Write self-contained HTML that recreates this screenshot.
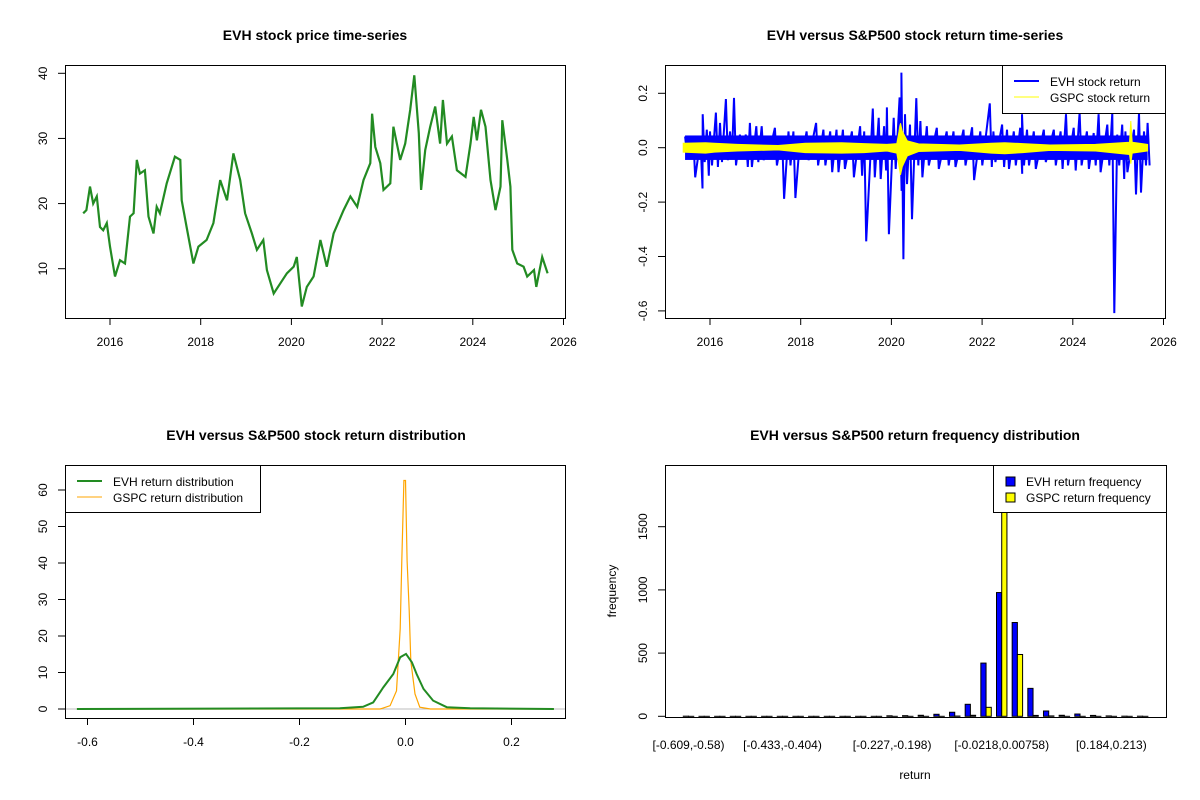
<!DOCTYPE html>
<html><head><meta charset="utf-8">
<style>
html,body{margin:0;padding:0;background:#fff;}
svg{display:block;font-family:"Liberation Sans",Arial,sans-serif;}
</style></head>
<body>
<svg id="c" width="1200" height="800" viewBox="0 0 1200 800" xmlns="http://www.w3.org/2000/svg"></svg>
<script>
// ---------- Panel 1: price ----------
const priceDates=[2015.41,2015.48,2015.56,2015.63,2015.71,2015.78,2015.85,2015.93,2016.0,2016.11,2016.22,2016.33,2016.44,2016.52,2016.59,2016.66,2016.77,2016.85,2016.96,2017.03,2017.10,2017.25,2017.43,2017.55,2017.58,2017.69,2017.84,2017.95,2018.13,2018.28,2018.43,2018.58,2018.72,2018.87,2018.98,2019.13,2019.24,2019.38,2019.46,2019.61,2019.75,2019.90,2020.05,2020.12,2020.23,2020.34,2020.49,2020.64,2020.78,2020.93,2021.15,2021.30,2021.45,2021.59,2021.74,2021.78,2021.85,2021.96,2022.03,2022.18,2022.25,2022.40,2022.51,2022.62,2022.71,2022.81,2022.86,2022.95,2023.06,2023.17,2023.28,2023.34,2023.43,2023.54,2023.65,2023.84,2023.95,2024.02,2024.09,2024.18,2024.28,2024.39,2024.50,2024.61,2024.65,2024.76,2024.83,2024.87,2024.98,2025.12,2025.20,2025.35,2025.40,2025.53,2025.65];
const prices=[18.5,19.0,22.6,20.0,21.1,16.4,15.9,17.0,13.4,8.8,11.3,10.8,18.0,18.5,26.7,24.6,25.1,18.0,15.4,19.5,18.5,23.1,27.2,26.7,20.5,16.4,10.8,13.4,14.4,17.0,23.6,20.5,27.7,23.6,18.5,15.4,12.9,14.4,9.8,6.2,7.7,9.3,10.3,11.8,4.2,7.2,8.8,14.4,10.3,15.4,19.0,21.1,19.5,23.6,26.2,33.8,28.7,26.2,22.1,23.1,31.8,26.7,29.2,34.4,39.7,30.8,22.1,28.2,31.8,34.9,29.2,35.9,29.2,30.3,25.1,24.1,29.2,33.3,29.7,34.4,31.8,23.6,19.0,22.6,32.8,26.7,22.6,12.9,10.8,10.3,8.8,9.8,7.2,11.8,9.3];
const priceYTicks=[10,20,30,40];
const yearTicks=[2016,2018,2020,2022,2024,2026];
// ---------- Panel 2: returns ----------
const retDates=[2015.45,2015.63,2015.79,2015.84,2015.93,2016.00,2016.13,2016.22,2016.35,2016.44,2016.53,2016.66,2016.79,2016.88,2017.02,2017.14,2017.25,2017.43,2017.59,2017.73,2017.84,2017.99,2018.13,2018.34,2018.50,2018.65,2018.79,2018.93,2019.13,2019.31,2019.40,2019.59,2019.72,2019.84,2019.90,2020.05,2020.18,2020.22,2020.30,2020.41,2020.55,2020.64,2020.78,2021.00,2021.22,2021.37,2021.59,2021.78,2021.96,2022.17,2022.25,2022.44,2022.55,2022.70,2022.84,2022.88,2022.99,2023.14,2023.36,2023.58,2023.73,2023.85,2024.02,2024.15,2024.31,2024.46,2024.57,2024.76,2024.87,2024.98,2025.09,2025.16,2025.35,2025.46,2025.57,2025.65];
const evhHi=[0.041,0.041,0.029,0.123,0.066,0.060,0.129,0.091,0.179,0.060,0.183,0.048,0.048,0.091,0.079,0.079,0.041,0.073,0.041,0.060,0.060,0.041,0.060,0.091,0.066,0.060,0.066,0.066,0.060,0.079,0.060,0.144,0.110,0.079,0.148,0.110,0.185,0.276,0.123,0.085,0.182,0.098,0.079,0.073,0.060,0.060,0.066,0.075,0.060,0.163,0.060,0.085,0.066,0.060,0.073,0.123,0.066,0.060,0.066,0.066,0.060,0.123,0.073,0.129,0.060,0.054,0.123,0.085,0.129,0.048,0.085,0.060,0.066,0.129,0.060,0.091];
const evhLo=[-0.028,-0.109,-0.150,-0.053,-0.103,-0.065,-0.071,-0.053,-0.046,-0.028,-0.065,-0.021,-0.071,-0.071,-0.053,-0.046,-0.028,-0.065,-0.188,-0.065,-0.185,-0.034,-0.046,-0.065,-0.065,-0.090,-0.090,-0.078,-0.109,-0.103,-0.344,-0.109,-0.115,-0.084,-0.318,-0.078,-0.159,-0.410,-0.134,-0.263,-0.065,-0.109,-0.065,-0.078,-0.065,-0.071,-0.065,-0.119,-0.065,-0.071,-0.053,-0.071,-0.078,-0.065,-0.096,-0.065,-0.065,-0.078,-0.053,-0.065,-0.078,-0.065,-0.084,-0.065,-0.078,-0.065,-0.090,-0.065,-0.608,-0.065,-0.115,-0.090,-0.172,-0.165,-0.065,-0.065];
const evhCore=0.045;
const gspcDates=[2015.41,2015.9,2016.1,2016.6,2017.5,2018.1,2018.9,2019.4,2019.9,2020.12,2020.2,2020.24,2020.35,2020.6,2021.5,2022.2,2022.5,2022.9,2023.5,2024.5,2025.25,2025.28,2025.31,2025.65];
const gspcHi=[0.016,0.018,0.016,0.012,0.008,0.016,0.018,0.015,0.012,0.015,0.090,0.060,0.025,0.014,0.010,0.016,0.018,0.015,0.010,0.012,0.020,0.098,0.020,0.012];
const gspcLo=[-0.016,-0.020,-0.016,-0.012,-0.008,-0.018,-0.020,-0.018,-0.012,-0.020,-0.100,-0.070,-0.030,-0.014,-0.010,-0.020,-0.022,-0.018,-0.010,-0.012,-0.025,-0.059,-0.020,-0.012];
const retYTicks=[-0.6,-0.4,-0.2,0.0,0.2];
const retYLabels=["-0.6","-0.4","-0.2","0.0","0.2"];
// ---------- Panel 3: density ----------
const densEvhX=[-0.62,-0.124,-0.080,-0.061,-0.042,-0.023,-0.010,0.001,0.012,0.021,0.034,0.052,0.078,0.122,0.28];
const densEvhY=[0,0.2,0.6,1.8,5.9,9.6,14.2,15.1,12.8,9.6,5.5,2.3,0.5,0.2,0];
const densGspcX=[-0.62,-0.048,-0.029,-0.017,-0.010,-0.007,-0.003,0.000,0.003,0.007,0.010,0.018,0.027,0.047,0.28];
const densGspcY=[0,0,0.9,5,22,40.6,62.6,62.6,40.6,27,13.2,4.1,0.5,0,0];
const densXTicks=[-0.6,-0.4,-0.2,0.0,0.2];
const densXLabels=["-0.6","-0.4","-0.2","0.0","0.2"];
const densYTicks=[0,10,20,30,40,50,60];
// ---------- Panel 4: histogram ----------
const evhFreq=[1,0,0,0,0,0,0,0,0,0,0,0,0,4,5,8,16,32,95,421,979,742,221,42,8,18,7,3,1,1];
const gspcFreq=[0,0,0,0,0,0,0,0,0,0,0,0,0,0,0,0,0,2,8,71,2000,489,7,3,0,0,0,0,0,0];
const histLabels=["[-0.609,-0.58)","[-0.433,-0.404)","[-0.227,-0.198)","[-0.0218,0.00758)","[0.184,0.213)"];
const histLabelIdx=[0,6,13,20,27];
const histYTicks=[0,500,1000,1500];

const NS="http://www.w3.org/2000/svg";
const svg=document.getElementById('c');
function mk(tag,attrs,parent){const e=document.createElementNS(NS,tag);for(const k in attrs)e.setAttribute(k,attrs[k]);(parent||svg).appendChild(e);return e;}
function txt(s,x,y,size,anchor,rot,parent,bold){const t=mk('text',{x:x,y:y,'font-size':size,'text-anchor':anchor||'middle',fill:'#000'},parent);if(bold)t.setAttribute('font-weight','bold');if(rot)t.setAttribute('transform','rotate(-90 '+x+' '+y+')');t.textContent=s;return t;}
function lin(d0,d1,r0,r1){return v=>r0+(v-d0)*(r1-r0)/(d1-d0);}

const defs=mk('defs',{});
function clip(id,x,y,w,h){const c=mk('clipPath',{id:id},defs);mk('rect',{x:x,y:y,width:w,height:h},c);}
clip('c1',65,65,500,253);clip('c2',665,65,501,253);clip('c3',65,465,501,253);clip('c4',665,465,502,253);

// ===== Panel 1 =====
{
const g=mk('g',{});
const X=lin(2016,2018,110,200.7), Y=lin(10,40,268.7,73.3);
txt('EVH stock price time-series',315,40,14,'middle',false,g,true);
let d='';priceDates.forEach((t,i)=>{d+=(i?'L':'M')+X(t).toFixed(1)+' '+Y(prices[i]).toFixed(1);});
const p=mk('path',{d:d,fill:'none',stroke:'#228B22','stroke-width':2.2,'clip-path':'url(#c1)'},g);

mk('rect',{x:65.5,y:65.5,width:500,height:253,fill:'none',stroke:'#000'},g);
yearTicks.forEach(t=>{const x=X(t);mk('line',{x1:x,x2:x,y1:318,y2:325,stroke:'#000'},g);const l=txt(String(t),x,346,12,'middle',false,g);});
priceYTicks.forEach(v=>{const y=Y(v);mk('line',{x1:58,x2:65,y1:y,y2:y,stroke:'#000'},g);const l=txt(String(v),47,y,12,'middle',true,g);});
}
// ===== Panel 2 =====
{
const g=mk('g',{});
const X=lin(2016,2018,710,800.7), Y=lin(0,0.2,147.7,93.3);
txt('EVH versus S&P500 stock return time-series',915,40,14,'middle',false,g,true);
const band=mk('rect',{x:X(retDates[0]),y:Y(evhCore),width:X(retDates[retDates.length-1])-X(retDates[0]),height:Y(-evhCore)-Y(evhCore),fill:'#0000ff'},g);

let d='';retDates.forEach((t,i)=>{const x=X(t);d+=(i?'L':'M')+x.toFixed(1)+' '+Y(evhHi[i]).toFixed(1)+'L'+(x+2).toFixed(1)+' '+Y(evhLo[i]).toFixed(1);});
const p=mk('path',{d:d,fill:'none',stroke:'#0000ff','stroke-width':2,'clip-path':'url(#c2)'},g);

let up='',dn='';gspcDates.forEach((t,i)=>{up+=(i?'L':'M')+X(t).toFixed(1)+' '+Y(gspcHi[i]).toFixed(1);});
for(let i=gspcDates.length-1;i>=0;i--){dn+='L'+X(gspcDates[i]).toFixed(1)+' '+Y(gspcLo[i]).toFixed(1);}
const gp=mk('path',{d:up+dn+'Z',fill:'#ffff00',stroke:'#ffff00','stroke-width':1},g);

mk('rect',{x:665.5,y:65.5,width:500,height:253,fill:'none',stroke:'#000'},g);
yearTicks.forEach(t=>{const x=X(t);mk('line',{x1:x,x2:x,y1:318,y2:325,stroke:'#000'},g);const l=txt(String(t),x,346,12,'middle',false,g);});
retYTicks.forEach((v,i)=>{const y=Y(v);mk('line',{x1:658,x2:665,y1:y,y2:y,stroke:'#000'},g);const l=txt(retYLabels[i],647,y,12,'middle',true,g);});
const lg=mk('g',{},g);
mk('rect',{x:1002.5,y:65.5,width:163,height:48,fill:'#fff',stroke:'#000'},lg);
mk('line',{x1:1014,x2:1039,y1:81,y2:81,stroke:'#0000ff','stroke-width':2},lg);
mk('line',{x1:1014,x2:1039,y1:97,y2:97,stroke:'#ffff00','stroke-width':1},lg);
txt('EVH stock return',1050,86,12,'start',false,lg);txt('GSPC stock return',1050,102,12,'start',false,lg);
}
// ===== Panel 3 =====
{
const g=mk('g',{});
const X=lin(-0.6,-0.4,87.5,193.5), Y=lin(0,60,709,490);
txt('EVH versus S&P500 stock return distribution',316,440,14,'middle',false,g,true);
mk('line',{x1:65,x2:566,y1:Y(0),y2:Y(0),stroke:'#bebebe'},g);
let d='';densGspcX.forEach((v,i)=>{d+=(i?'L':'M')+X(v).toFixed(1)+' '+Y(densGspcY[i]).toFixed(1);});
const o=mk('path',{d:d,fill:'none',stroke:'#ffa500','stroke-width':1.2,'clip-path':'url(#c3)'},g);

d='';densEvhX.forEach((v,i)=>{d+=(i?'L':'M')+X(v).toFixed(1)+' '+Y(densEvhY[i]).toFixed(1);});
const gr=mk('path',{d:d,fill:'none',stroke:'#228B22','stroke-width':2,'clip-path':'url(#c3)'},g);

mk('rect',{x:65.5,y:465.5,width:500,height:253,fill:'none',stroke:'#000'},g);
densXTicks.forEach((v,i)=>{const x=X(v);mk('line',{x1:x,x2:x,y1:718,y2:725,stroke:'#000'},g);const l=txt(densXLabels[i],x,746,12,'middle',false,g);});
densYTicks.forEach(v=>{const y=Y(v);mk('line',{x1:58,x2:65,y1:y,y2:y,stroke:'#000'},g);const l=txt(String(v),47,y,12,'middle',true,g);});
const lg=mk('g',{},g);
mk('rect',{x:65.5,y:465.5,width:195,height:47,fill:'#fff',stroke:'#000'},lg);
mk('line',{x1:77,x2:102,y1:481,y2:481,stroke:'#228B22','stroke-width':2},lg);
mk('line',{x1:77,x2:102,y1:497,y2:497,stroke:'#ffa500','stroke-width':1},lg);
txt('EVH return distribution',113,486,12,'start',false,lg);txt('GSPC return distribution',113,502,12,'start',false,lg);
}
// ===== Panel 4 =====
{
const g=mk('g',{});
const Y=lin(0,1500,716.3,526.7);const unit=5.22, x0=683.3-unit;
const gx=i=>x0+unit+i*3*unit;
txt('EVH versus S&P500 return frequency distribution',915,440,14,'middle',false,g,true);
const bars=mk('g',{'clip-path':'url(#c4)'},g);
evhFreq.forEach((v,i)=>{const y=Y(v);const r=mk('rect',{x:gx(i),y:Math.min(y,Y(0)),width:unit,height:Math.max(Y(0)-y,0.01),fill:'#0000ff',stroke:'#000','stroke-width':1},bars);
});
gspcFreq.forEach((v,i)=>{const y=Y(v);const r=mk('rect',{x:gx(i)+unit,y:Math.min(y,Y(0)),width:unit,height:Math.max(Y(0)-y,0.01),fill:'#ffff00',stroke:'#000','stroke-width':1},bars);
});
mk('rect',{x:665.5,y:465.5,width:501,height:252,fill:'none',stroke:'#000'},g);
histYTicks.forEach(v=>{const y=Y(v);mk('line',{x1:658,x2:665,y1:y,y2:y,stroke:'#000'},g);const l=txt(String(v),647,y,12,'middle',true,g);});
histLabels.forEach((s,k)=>{const l=txt(s,gx(histLabelIdx[k])+unit,749,12,'middle',false,g);});
txt('return',915,779,12,'middle',false,g);
txt('frequency',616,591,12,'middle',true,g);
const lg=mk('g',{},g);
mk('rect',{x:993.5,y:465.5,width:173,height:47,fill:'#fff',stroke:'#000'},lg);
mk('rect',{x:1006,y:477,width:9,height:9,fill:'#0000ff',stroke:'#000'},lg);
mk('rect',{x:1006,y:493,width:9,height:9,fill:'#ffff00',stroke:'#000'},lg);
txt('EVH return frequency',1026,486,12,'start',false,lg);txt('GSPC return frequency',1026,502,12,'start',false,lg);
}
</script>
</body></html>
